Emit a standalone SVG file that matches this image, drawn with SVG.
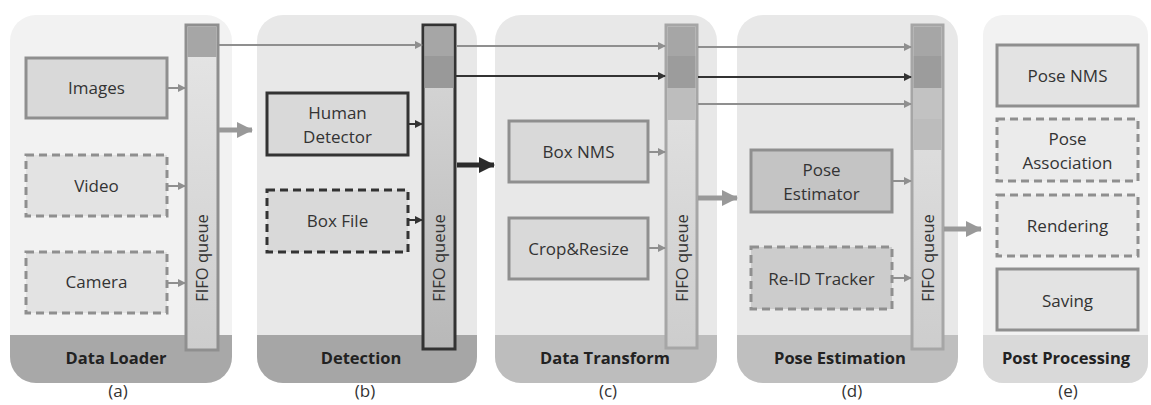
<svg xmlns="http://www.w3.org/2000/svg" width="1151" height="405" viewBox="0 0 1151 405">
  <defs>
    <style>
      .lbl { font-family: "Open Sans", "Liberation Sans", sans-serif; font-size: 17px; fill: #333; text-anchor: middle; }
      .qlbl { font-family: "Open Sans", "Liberation Sans", sans-serif; font-size: 16.5px; fill: #333; text-anchor: middle; }
      .title { font-family: "Open Sans", "Liberation Sans", sans-serif; font-size: 16.5px; font-weight: bold; fill: #222; text-anchor: middle; }
      .cap { font-family: "Open Sans", "Liberation Sans", sans-serif; font-size: 17px; fill: #333; text-anchor: middle; }
      .box { stroke: #8f8f8f; stroke-width: 3; }
      .dash { stroke: #8f8f8f; stroke-width: 3; stroke-dasharray: 8 5; }
      .thin { fill: none; stroke: #8f8f8f; stroke-width: 2; }
      .thindark { fill: none; stroke: #333; stroke-width: 2; }
      .big { fill: none; stroke: #999; stroke-width: 5; }
      .bigdark { fill: none; stroke: #2b2b2b; stroke-width: 5; }
    </style>
    <marker id="ah" markerWidth="8" markerHeight="8" refX="7" refY="4" orient="auto" markerUnits="userSpaceOnUse">
      <path d="M0,0 L8,4 L0,8 Z" fill="#8f8f8f"/>
    </marker>
    <marker id="ahd" markerWidth="8" markerHeight="8" refX="7" refY="4" orient="auto" markerUnits="userSpaceOnUse">
      <path d="M0,0 L8,4 L0,8 Z" fill="#333"/>
    </marker>
    <marker id="bh" markerWidth="16" markerHeight="16" refX="15" refY="8" orient="auto" markerUnits="userSpaceOnUse">
      <path d="M0,0 L16,8 L0,16 Z" fill="#999"/>
    </marker>
    <marker id="bhd" markerWidth="16" markerHeight="16" refX="15" refY="8" orient="auto" markerUnits="userSpaceOnUse">
      <path d="M0,0 L16,8 L0,16 Z" fill="#2b2b2b"/>
    </marker>
    <linearGradient id="qfill" x1="0" y1="0" x2="0" y2="1">
      <stop offset="0" stop-color="#e6e6e6"/>
      <stop offset="1" stop-color="#cdcdcd"/>
    </linearGradient>
    <linearGradient id="qfillb" x1="0" y1="0" x2="0" y2="1">
      <stop offset="0" stop-color="#d9d9d9"/>
      <stop offset="1" stop-color="#b8b8b8"/>
    </linearGradient>
    <clipPath id="clipA"><rect x="10" y="15" width="222" height="368" rx="26"/></clipPath>
    <clipPath id="clipB"><rect x="257" y="15" width="220" height="368" rx="26"/></clipPath>
    <clipPath id="clipC"><rect x="495" y="15" width="222" height="368" rx="26"/></clipPath>
    <clipPath id="clipD"><rect x="737" y="15" width="221" height="368" rx="26"/></clipPath>
    <clipPath id="clipE"><rect x="983" y="15" width="165" height="368" rx="20"/></clipPath>
  </defs>

  <!-- stage panels -->
  <g id="panel-a">
    <g clip-path="url(#clipA)">
      <rect x="10" y="15" width="222" height="368" fill="#f2f2f2"/>
      <rect x="10" y="335" width="222" height="48" fill="#a8a8a8"/>
    </g>
    <text class="title" x="116" y="364">Data Loader</text>
    <text class="cap" x="118" y="397">(a)</text>
  </g>
  <g id="panel-b">
    <g clip-path="url(#clipB)">
      <rect x="257" y="15" width="220" height="368" fill="#e8e8e8"/>
      <rect x="257" y="335" width="220" height="48" fill="#a6a6a6"/>
    </g>
    <text class="title" x="361" y="364">Detection</text>
    <text class="cap" x="365" y="397">(b)</text>
  </g>
  <g id="panel-c">
    <g clip-path="url(#clipC)">
      <rect x="495" y="15" width="222" height="368" fill="#e8e8e8"/>
      <rect x="495" y="335" width="222" height="48" fill="#bdbdbd"/>
    </g>
    <text class="title" x="605" y="364">Data Transform</text>
    <text class="cap" x="608" y="397">(c)</text>
  </g>
  <g id="panel-d">
    <g clip-path="url(#clipD)">
      <rect x="737" y="15" width="221" height="368" fill="#e8e8e8"/>
      <rect x="737" y="335" width="221" height="48" fill="#bfbfbf"/>
    </g>
    <text class="title" x="840" y="364">Pose Estimation</text>
    <text class="cap" x="852" y="397">(d)</text>
  </g>
  <g id="panel-e">
    <g clip-path="url(#clipE)">
      <rect x="983" y="15" width="165" height="368" fill="#f2f2f2"/>
      <rect x="983" y="335" width="165" height="48" fill="#d9d9d9"/>
    </g>
    <text class="title" x="1066" y="364">Post Processing</text>
    <text class="cap" x="1068" y="397">(e)</text>
  </g>

  <!-- stage (a) nodes -->
  <g id="images">
    <rect class="box" x="26" y="58" width="141" height="60" fill="#d9d9d9"/>
    <text class="lbl" x="96.5" y="94">Images</text>
  </g>
  <g id="video">
    <rect class="dash" x="26" y="155" width="141" height="61" fill="#e3e3e3"/>
    <text class="lbl" x="96.5" y="192">Video</text>
  </g>
  <g id="camera">
    <rect class="dash" x="26" y="252" width="141" height="61" fill="#e3e3e3"/>
    <text class="lbl" x="96.5" y="288">Camera</text>
  </g>
  <g id="queue-a">
    <rect x="186" y="25" width="32" height="325" fill="url(#qfill)" stroke="#8f8f8f" stroke-width="3"/>
    <rect x="187.5" y="26.5" width="29" height="30.5" fill="#a6a6a6"/>
    <text class="qlbl" transform="translate(208 258) rotate(-90)">FIFO queue</text>
  </g>

  <!-- stage (b) nodes -->
  <g id="human-detector">
    <rect x="267" y="93" width="141" height="62" fill="#d9d9d9" stroke="#333" stroke-width="3"/>
    <text class="lbl" x="337.5" y="119">Human</text>
    <text class="lbl" x="337.5" y="143">Detector</text>
  </g>
  <g id="box-file">
    <rect x="267" y="190" width="141" height="62" fill="#d9d9d9" stroke="#333" stroke-width="3" stroke-dasharray="8 5"/>
    <text class="lbl" x="337.5" y="227">Box File</text>
  </g>
  <g id="queue-b">
    <rect x="423" y="25" width="32" height="324" fill="url(#qfillb)" stroke="#333" stroke-width="3"/>
    <rect x="424.5" y="26.5" width="29" height="29.5" fill="#a6a6a6"/>
    <rect x="424.5" y="56" width="29" height="32" fill="#999"/>
    <text class="qlbl" transform="translate(445 258) rotate(-90)">FIFO queue</text>
  </g>

  <!-- stage (c) nodes -->
  <g id="box-nms">
    <rect class="box" x="509" y="121" width="139" height="61" fill="#d9d9d9" stroke="#a6a6a6"/>
    <text class="lbl" x="578.5" y="158">Box NMS</text>
  </g>
  <g id="crop-resize">
    <rect class="box" x="509" y="218" width="139" height="61" fill="#d9d9d9" stroke="#a6a6a6"/>
    <text class="lbl" x="578.5" y="255">Crop&amp;Resize</text>
  </g>
  <g id="queue-c">
    <rect x="666" y="25" width="31" height="323" fill="url(#qfill)" stroke="#a6a6a6" stroke-width="3"/>
    <rect x="667.5" y="26.5" width="28" height="29.5" fill="#a6a6a6"/>
    <rect x="667.5" y="56" width="28" height="32" fill="#9c9c9c"/>
    <rect x="667.5" y="88" width="28" height="32" fill="#bdbdbd"/>
    <text class="qlbl" transform="translate(688 258) rotate(-90)">FIFO queue</text>
  </g>

  <!-- stage (d) nodes -->
  <g id="pose-estimator">
    <rect class="box" x="751" y="150" width="141" height="62" fill="#c4c4c4" stroke="#a0a0a0"/>
    <text class="lbl" x="821.5" y="176">Pose</text>
    <text class="lbl" x="821.5" y="200">Estimator</text>
  </g>
  <g id="reid-tracker">
    <rect class="dash" x="751" y="247" width="141" height="62" fill="#cccccc" stroke="#a0a0a0"/>
    <text class="lbl" x="821.5" y="285">Re-ID Tracker</text>
  </g>
  <g id="queue-d">
    <rect x="912" y="25" width="31" height="324" fill="url(#qfill)" stroke="#a6a6a6" stroke-width="3"/>
    <rect x="913.5" y="26.5" width="28" height="29.5" fill="#a6a6a6"/>
    <rect x="913.5" y="56" width="28" height="32" fill="#9c9c9c"/>
    <rect x="913.5" y="88" width="28" height="31" fill="#c2c2c2"/>
    <rect x="913.5" y="119" width="28" height="31" fill="#bcbcbc"/>
    <text class="qlbl" transform="translate(934 258) rotate(-90)">FIFO queue</text>
  </g>

  <!-- stage (e) nodes -->
  <g id="pose-nms">
    <rect class="box" x="997" y="45" width="141" height="61" fill="#e3e3e3"/>
    <text class="lbl" x="1067.5" y="82">Pose NMS</text>
  </g>
  <g id="pose-association">
    <rect class="dash" x="997" y="119" width="141" height="62" fill="#ebebeb" stroke="#a6a6a6"/>
    <text class="lbl" x="1067.5" y="145">Pose</text>
    <text class="lbl" x="1067.5" y="169">Association</text>
  </g>
  <g id="rendering">
    <rect class="dash" x="997" y="195" width="141" height="61" fill="#ebebeb" stroke="#a6a6a6"/>
    <text class="lbl" x="1067.5" y="232">Rendering</text>
  </g>
  <g id="saving">
    <rect class="box" x="997" y="269" width="141" height="61" fill="#e3e3e3"/>
    <text class="lbl" x="1067.5" y="307">Saving</text>
  </g>

  <!-- connectors -->
  <g id="connectors">
    <!-- node to queue -->
    <line class="thin" x1="168" y1="88" x2="185" y2="88" marker-end="url(#ah)"/>
    <line class="thin" x1="168" y1="186" x2="185" y2="186" marker-end="url(#ah)"/>
    <line class="thin" x1="168" y1="283" x2="185" y2="283" marker-end="url(#ah)"/>
    <line class="thindark" x1="409" y1="124" x2="422" y2="124" marker-end="url(#ahd)"/>
    <line class="thindark" x1="409" y1="220" x2="422" y2="220" marker-end="url(#ahd)"/>
    <line class="thin" x1="649" y1="152" x2="665" y2="152" stroke="#a6a6a6" marker-end="url(#ah)"/>
    <line class="thin" x1="649" y1="248" x2="665" y2="248" stroke="#a6a6a6" marker-end="url(#ah)"/>
    <line class="thin" x1="893" y1="181" x2="911" y2="181" stroke="#a6a6a6" marker-end="url(#ah)"/>
    <line class="thin" x1="893" y1="278" x2="911" y2="278" stroke="#a6a6a6" marker-end="url(#ah)"/>

    <!-- pass-through channels between queues -->
    <line class="thin" x1="219" y1="45" x2="422" y2="45" marker-end="url(#ah)"/>
    <line class="thin" x1="456" y1="46" x2="665" y2="46" marker-end="url(#ah)"/>
    <line class="thin" x1="698" y1="47" x2="911" y2="47" marker-end="url(#ah)"/>
    <line class="thindark" x1="456" y1="76" x2="665" y2="76" marker-end="url(#ahd)"/>
    <line class="thindark" x1="698" y1="77" x2="911" y2="77" marker-end="url(#ahd)"/>
    <line class="thin" x1="698" y1="104" x2="911" y2="104" stroke="#a6a6a6" marker-end="url(#ah)"/>

    <!-- stage to stage -->
    <line class="big" x1="219" y1="130" x2="252" y2="130" marker-end="url(#bh)"/>
    <line class="bigdark" x1="457" y1="165" x2="494" y2="165" marker-end="url(#bhd)"/>
    <line class="big" x1="698" y1="198" x2="737" y2="198" marker-end="url(#bh)"/>
    <line class="big" x1="944" y1="229" x2="981" y2="229" marker-end="url(#bh)"/>
  </g>
</svg>
